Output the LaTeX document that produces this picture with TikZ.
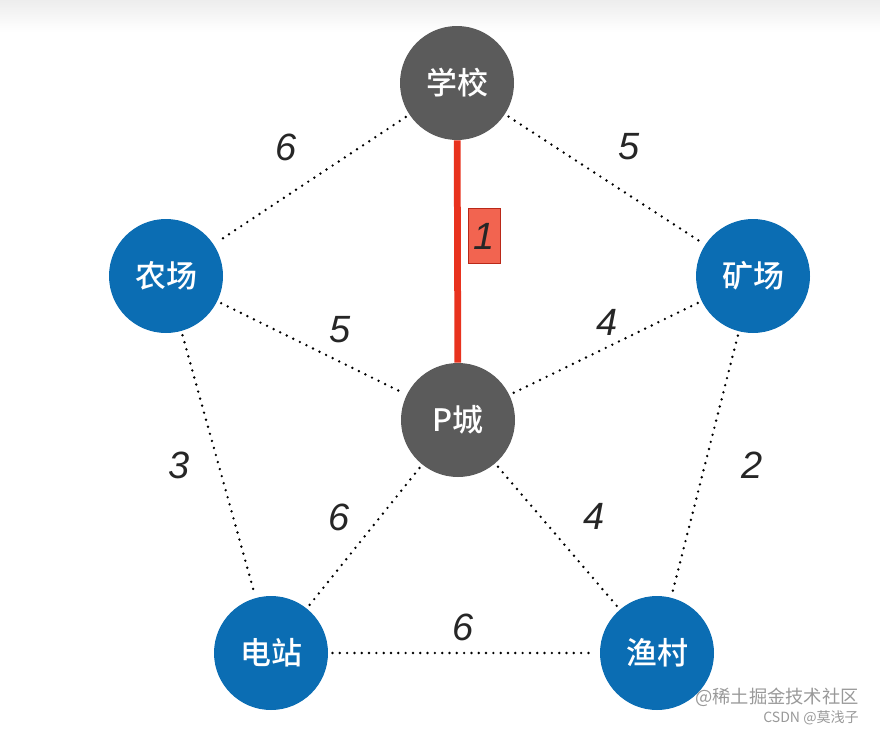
\documentclass[tikz,border=0pt]{standalone}
\usepackage{fontspec}
\newfontfamily\cjk{Noto Sans CJK SC}[UprightFont=* Medium]
\newfontfamily\markfont{Noto Sans CJK SC}
\newfontfamily\numfont{Liberation Sans}
\usetikzlibrary{positioning}

\definecolor{citygray}{HTML}{5B5B5B}
\definecolor{townblue}{HTML}{0B6DB3}
\definecolor{roadred}{HTML}{E8321E}
\definecolor{tagred}{HTML}{F26450}

\tikzset{
    place/.style={circle, minimum size=114*0.025cm, inner sep=0pt, text=white, font=\cjk\fontsize{22}{22}\selectfont},
    hub/.style={place, fill=citygray},
    town/.style={place, fill=townblue},
    road/.style={line width=1.9pt, dash pattern=on 0pt off 5.2pt, line cap=round, shorten <=3pt, shorten >=3pt},
    chosen/.style={line width=4.8pt, draw=roadred},
    cost/.style={font=\numfont\itshape\fontsize{27}{27}\selectfont, text=black!85},
    costtag/.style={cost, draw=roadred!80!black, fill=tagred, inner sep=1pt, minimum width=32*0.025cm, minimum height=55*0.025cm}
}

\begin{document}
\begin{tikzpicture}[x=0.025cm, y=-0.025cm]
    \useasboundingbox (0,0) rectangle (880,730);
    \shade[top color=black!7, bottom color=white] (0,0) rectangle (880,32);

    % places
    \node [hub]  (school) at (457,83)  {学校};
    \node [town] (farm)   at (166,276) {农场};
    \node [town] (mine)   at (753,276) {矿场};
    \node [hub]  (pcity)  at (458,420) {P城};
    \node [town] (power)  at (271,653) {电站};
    \node [town] (fish)   at (657,653) {渔村};

    % roads
    \draw [road] (school) -- (farm);
    \draw [road] (school) -- (mine);
    \draw [road] (farm) -- (pcity);
    \draw [road] (mine) -- (pcity);
    \draw [road] (farm) -- (power);
    \draw [road] (mine) -- (fish);
    \draw [road] (pcity) -- (power);
    \draw [road] (pcity) -- (fish);
    \draw [road] (power) -- (fish);
    \draw [chosen] (school) -- (pcity);

    % costs
    \node [cost] (c1) at (286,147) {6};
    \node [cost] (c2) at (629,147) {5};
    \node [cost] (c3) at (340,330) {5};
    \node [cost] (c4) at (607,322) {4};
    \node [cost] (c5) at (179,465) {3};
    \node [cost] (c6) at (752,465) {2};
    \node [cost] (c7) at (339,517) {6};
    \node [cost] (c8) at (594,516) {4};
    \node [cost] (c9) at (463,627) {6};
    \node [costtag] (c0) at (484,236) {1};

    % watermark
    \node [text=black!40, font=\markfont\fontsize{13}{13}\selectfont] (wm1) at (777,697) {@稀土掘金技术社区};
    \node [text=black!40, font=\markfont\fontsize{10}{10}\selectfont, below left=-4pt and 0pt of wm1.south east] (wm2) {CSDN @莫浅子};
\end{tikzpicture}
\end{document}
